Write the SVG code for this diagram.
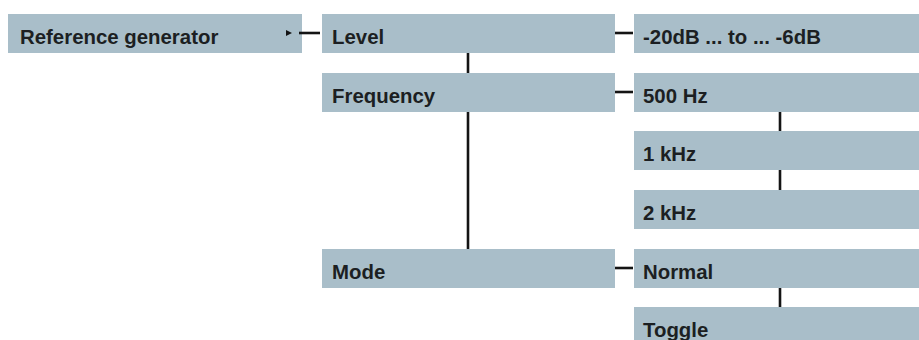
<svg xmlns="http://www.w3.org/2000/svg" width="919" height="340" viewBox="0 0 919 340">
<style>
.box{fill:#a9bec9}
.t{font-family:"Liberation Sans",Arial,sans-serif;font-weight:bold;font-size:20.4px;fill:#1c1f22}
.c{stroke:#141414;stroke-width:2.6;fill:none}
</style>
<rect width="919" height="340" fill="#ffffff"/>
<g id="ref-gen"><rect class="box" x="8" y="14" width="294" height="39"/><text class="t" x="20" y="44">Reference generator</text></g>
<g id="level"><rect class="box" x="322" y="14" width="293" height="39"/><text class="t" x="332" y="44">Level</text></g>
<g id="frequency"><rect class="box" x="322" y="73" width="293" height="39"/><text class="t" x="332" y="103">Frequency</text></g>
<g id="mode"><rect class="box" x="322" y="249" width="293" height="39"/><text class="t" x="332" y="279">Mode</text></g>
<g id="range"><rect class="box" x="634" y="14" width="285" height="39"/><text class="t" x="643" y="44">-20dB ... to ... -6dB</text></g>
<g id="f500"><rect class="box" x="634" y="73" width="285" height="39"/><text class="t" x="643" y="103">500 Hz</text></g>
<g id="f1k"><rect class="box" x="634" y="131" width="285" height="39"/><text class="t" x="643" y="161">1 kHz</text></g>
<g id="f2k"><rect class="box" x="634" y="190" width="285" height="39"/><text class="t" x="643" y="220">2 kHz</text></g>
<g id="normal"><rect class="box" x="634" y="249" width="285" height="39"/><text class="t" x="643" y="279">Normal</text></g>
<g id="toggle"><rect class="box" x="634" y="307" width="285" height="39"/><text class="t" x="643" y="337">Toggle</text></g>
<g id="connectors">
<line class="c" x1="299" y1="33" x2="320" y2="33"/>
<polygon points="286,30 292,33 286,36" fill="#141414"/>
<line class="c" x1="615" y1="33" x2="633" y2="33"/>
<line class="c" x1="468" y1="53" x2="468" y2="73"/>
<line class="c" x1="615" y1="92" x2="633" y2="92"/>
<line class="c" x1="468" y1="112" x2="468" y2="249"/>
<line class="c" x1="615" y1="268" x2="633" y2="268"/>
<line class="c" x1="780" y1="112" x2="780" y2="131"/>
<line class="c" x1="780" y1="170" x2="780" y2="190"/>
<line class="c" x1="780" y1="288" x2="780" y2="307"/>
</g>
</svg>
